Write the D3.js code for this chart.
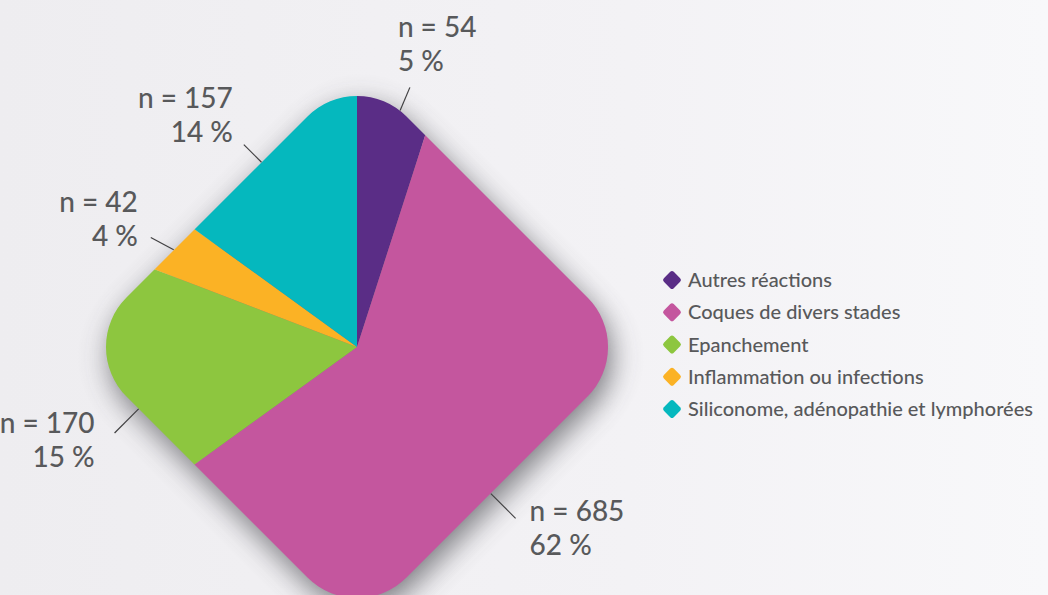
<!DOCTYPE html>
<html>
<head>
<meta charset="utf-8">
<script src="https://cdn.jsdelivr.net/npm/d3@7"></script>
<style>
  html, body { margin: 0; padding: 0; overflow: hidden; }
  text { font-family: Lato, "Open Sans", sans-serif; fill: #58595b; }
</style>
</head>
<body>
<div id="chart"></div>
<script>
// data
var categories = ["Autres réactions", "Coques de divers stades", "Epanchement",
                  "Inflammation ou infections", "Siliconome, adénopathie et lymphorées"];
var counts = [54, 685, 170, 42, 157];
var percents = [5, 62, 15, 4, 14];
// slice sizes as drawn (measured from the slice angles, in %)
var sliceShares = [4.96, 60.08, 15.79, 4.15, 15.02];
var colors = ["#5a2d86", "#c4569e", "#8dc63f", "#fbb225", "#05b8be"];

var width = 1048, height = 595;
var cx = 357, cy = 347;
var half = 198, corner = 70;   // rounded diamond: half side and corner radius

// label layout: angle nudge of the leader start, leader direction, length, text offset
var labelLayout = [
  { nudge: 1.4, dir: 23, len: 25, dx: -12, dy: -50, anchor: "start" },
  { nudge: 11.6, dir: 135, len: 35, dx: 14, dy: 3, anchor: "start" },
  { nudge: -8.4, dir: 225, len: 34, dx: -20, dy: 0, anchor: "end" },
  { nudge: -0.5, dir: 298, len: 26, dx: -13, dy: -26, anchor: "end" },
  { nudge: -0.3, dir: 315, len: 25, dx: -11, dy: -37, anchor: "end" }
];

var svg = d3.select("#chart").append("svg")
    .attr("width", width)
    .attr("height", height);

var defs = svg.append("defs");

var bg = defs.append("linearGradient")
    .attr("id", "bg")
    .attr("x1", "0").attr("y1", "0").attr("x2", "1").attr("y2", "0");
bg.append("stop").attr("offset", "0").attr("stop-color", "#eeedf0");
bg.append("stop").attr("offset", "0.6").attr("stop-color", "#f3f2f5");
bg.append("stop").attr("offset", "1").attr("stop-color", "#f8f8fa");

var shadow = defs.append("filter")
    .attr("id", "shadow")
    .attr("x", "-30%").attr("y", "-30%")
    .attr("width", "160%").attr("height", "160%");
shadow.append("feGaussianBlur").attr("stdDeviation", 14);

defs.append("clipPath").attr("id", "diamond")
  .append("rect")
    .attr("x", -half).attr("y", -half)
    .attr("width", half * 2).attr("height", half * 2)
    .attr("rx", corner).attr("ry", corner)
    .attr("transform", "rotate(45)");

svg.append("rect")
    .attr("width", width)
    .attr("height", height)
    .attr("fill", "url(#bg)");

var g = svg.append("g")
    .attr("transform", "translate(" + cx + "," + cy + ")");

// soft shadow behind the shape
g.append("rect")
    .attr("x", -half).attr("y", -half)
    .attr("width", half * 2).attr("height", half * 2)
    .attr("rx", corner).attr("ry", corner)
    .attr("fill", "#4a494f")
    .attr("opacity", 0.7)
    .attr("filter", "url(#shadow)")
    .attr("transform", "translate(4,10) rotate(45)");

var pie = d3.pie().sort(null).value(function(d) { return d; });
var arcs = pie(sliceShares);

var arc = d3.arc().innerRadius(0).outerRadius(420);

g.append("g")
    .attr("clip-path", "url(#diamond)")
  .selectAll("path")
  .data(arcs)
  .enter()
  .append("path")
    .attr("d", arc)
    .attr("fill", function(d, i) { return colors[i]; });

// is a point (relative to centre) inside the rounded diamond
function inside(x, y) {
  var c = Math.SQRT1_2;
  var u = Math.abs(x * c + y * c), v = Math.abs(-x * c + y * c);
  var qx = u - (half - corner), qy = v - (half - corner);
  var out = Math.hypot(Math.max(qx, 0), Math.max(qy, 0)) + Math.min(Math.max(qx, qy), 0);
  return out <= corner;
}

function edgePoint(angle) {
  var r = 0;
  while (inside(Math.sin(angle) * r, -Math.cos(angle) * r) && r < 500) r += 0.5;
  return [Math.sin(angle) * r, -Math.cos(angle) * r];
}

var rad = Math.PI / 180;
var labels = g.append("g").attr("class", "labels");

arcs.forEach(function(d, i) {
  var lay = labelLayout[i];
  var a = (d.startAngle + d.endAngle) / 2 + lay.nudge * rad;
  var p0 = edgePoint(a);
  var p1 = [p0[0] + Math.sin(lay.dir * rad) * lay.len,
            p0[1] - Math.cos(lay.dir * rad) * lay.len];

  labels.append("line")
      .attr("x1", p0[0]).attr("y1", p0[1])
      .attr("x2", p1[0]).attr("y2", p1[1])
      .attr("stroke", "#414042")
      .attr("stroke-width", 1.2);

  var t = labels.append("text")
      .attr("x", p1[0] + lay.dx)
      .attr("y", p1[1] + lay.dy)
      .attr("text-anchor", lay.anchor)
      .style("font-size", "28px")
      .style("font-weight", 500);
  t.append("tspan")
      .attr("x", p1[0] + lay.dx)
      .text("n = " + counts[i]);
  t.append("tspan")
      .attr("x", p1[0] + lay.dx)
      .attr("dy", 34)
      .text(percents[i] + " %");
});

// legend
var legendY = d3.scalePoint()
    .domain(categories)
    .range([280, 409]);

var legend = svg.append("g").attr("class", "legend");

var item = legend.selectAll("g")
  .data(categories)
  .enter()
  .append("g")
    .attr("transform", function(d) { return "translate(672," + legendY(d) + ")"; });

item.append("rect")
    .attr("x", -7).attr("y", -7)
    .attr("width", 14).attr("height", 14)
    .attr("rx", 2.5)
    .attr("transform", "rotate(45)")
    .attr("fill", function(d, i) { return colors[i]; });

item.append("text")
    .attr("x", 16)
    .attr("dy", "0.35em")
    .style("font-size", "20px")
    .style("font-weight", 500)
    .text(function(d) { return d; });
</script>
</body>
</html>
